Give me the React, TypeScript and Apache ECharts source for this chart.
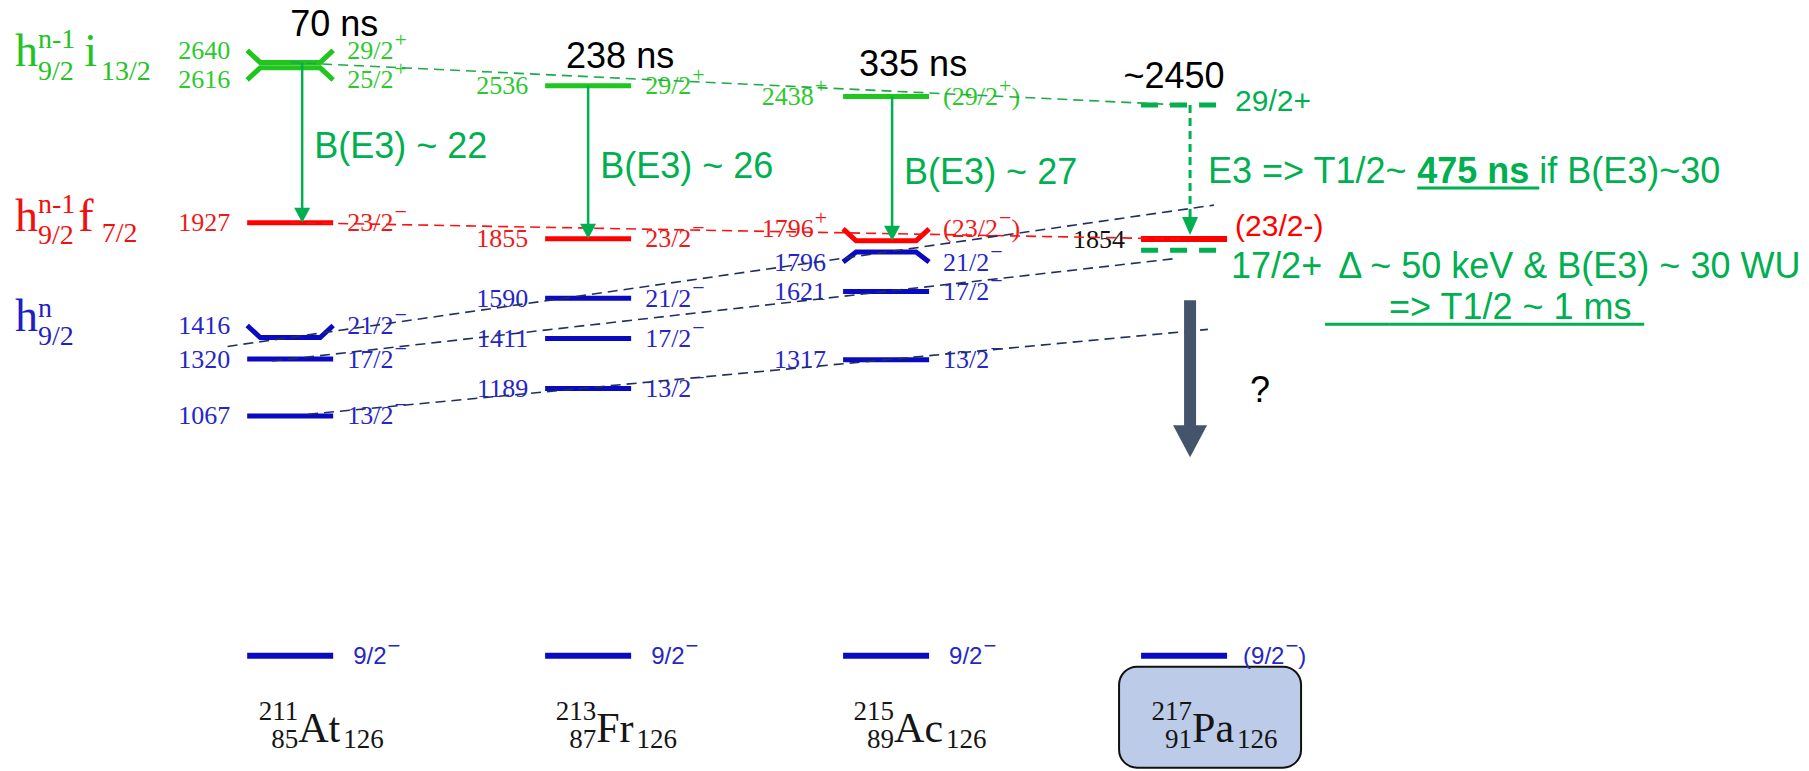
import React, { useEffect, useRef } from 'react';
import * as echarts from 'echarts';

// N = 126 isotones, one column each
const SYMBOLS = ['At', 'Fr', 'Ac', 'Pa'];
const MASS = [211, 213, 215, 217];
const PROTONS = [85, 87, 89, 91];
const NEUTRONS = 126;
const HIGHLIGHT = 3; // 217Pa

// Level energies (keV) and spin-parities
const AT_E = [0, 1067, 1320, 1416, 1927, 2616, 2640];
const AT_J = ['9/2-', '13/2-', '17/2-', '21/2-', '23/2-', '25/2+', '29/2+'];
const FR_E = [0, 1189, 1411, 1590, 1855, 2536];
const FR_J = ['9/2-', '13/2-', '17/2-', '21/2-', '23/2-', '29/2+'];
const AC_E = [0, 1317, 1621, 1796, 1796, 2438];
const AC_J = ['9/2-', '13/2-', '17/2-', '21/2-', '(23/2-)', '(29/2+)'];
const AC_PLUS_X = [false, false, false, false, true, true]; // quoted as E + x
const X_KEV = 50; // unknown offset x
const PA_E = [0, 1804, 1854, 2450];
const PA_J = ['(9/2-)', '17/2+', '(23/2-)', '29/2+'];
const PA_TENTATIVE = [false, true, false, true];

// Isomer half-lives and E3 strengths (W.u.)
const HALF_LIVES = ['70 ns', '238 ns', '335 ns'];
const BE3_WU = [22, 26, 27];
const PA_HALF_LIFE = '475 ns';
const PA_BE3_WU = 30;
const PA_DELTA_KEV = 50;
const PA_ISOMER_BE3 = 30;
const PA_ISOMER_T = '1 ms';

const SERIF = "'Liberation Serif', 'Times New Roman', serif";
const SANS = "'Liberation Sans', Arial, Helvetica, sans-serif";
const NOTE_GREEN = '#00b050';
type Fam = 'b' | 'r' | 'g';
const COLORS: Record<Fam, { line: string; text: string; guide: string }> = {
  b: { line: '#0a0ac2', text: '#2626c8', guide: '#1f3060' },
  r: { line: '#ff0000', text: '#ee1a1a', guide: '#ff1010' },
  g: { line: '#1ec61e', text: '#2cc82c', guide: '#1daa48' },
};

// Levels whose bar ends are bent away from neighbours (px)
const KINKS: Record<string, number> = {
  'At 21/2-': -12,
  'At 25/2+': 12,
  'At 29/2+': -12,
  'Ac 21/2-': 10,
  'Ac (23/2-)': -12,
};
const HALF_W = 43;
const ARROW_DX = [12, 0, 6, 6];
// half-life label placement relative to the isomer (px)
const HL_DX = [44, 32, 27];
const HL_DY = [-39, -30, -33];

type Level = { col: number; e: number; drawE: number; j: string; fam: Fam; plusX: boolean; tentative: boolean };
const bare = (j: string) => j.replace(/[()]/g, '');
function familyOf(j: string): Fam {
  const s = bare(j);
  if (s.endsWith('+')) return 'g';
  if (s === '23/2-') return 'r';
  return 'b';
}
const NUC_E = [AT_E, FR_E, AC_E, PA_E];
const NUC_J = [AT_J, FR_J, AC_J, PA_J];
const LEVELS: Level[] = [];
NUC_E.forEach((es, col) =>
  es.forEach((e, k) => {
    const j = NUC_J[col][k];
    const plusX = col === 2 && AC_PLUS_X[k];
    LEVELS.push({ col, e, drawE: e + (plusX ? X_KEV : 0), j, fam: familyOf(j), plusX, tentative: col === 3 && PA_TENTATIVE[k] });
  })
);
const findLevel = (col: number, j: string) => LEVELS.find((l) => l.col === col && bare(l.j) === j)!;

// Systematics guides: straight line through the same state in two nuclei
const GUIDES = [
  { j: '29/2+', a: 0, b: 3, from: 0, to: 3 },
  { j: '23/2-', a: 0, b: 3, from: 0, to: 3 },
  { j: '21/2-', a: 0, b: 2, from: -0.21, to: 3.1 },
  { j: '17/2-', a: 0, b: 2, from: -0.06, to: 2.97 },
  { j: '13/2-', a: 0, b: 2, from: 0.06, to: 3.08 },
];
const TRANSITIONS = [0, 1, 2, 3].map((col) => ({ col, from: findLevel(col, '29/2+'), to: findLevel(col, '23/2-') }));

// ---------- text helpers ----------
type Run = { t: string; size: number; fill: string; serif?: boolean; bold?: boolean; dy?: number; stack?: boolean; gap?: number; under?: boolean };
let measureCtx: CanvasRenderingContext2D | null = null;
const fontOf = (r: Run) => `${r.bold ? 'bold ' : ''}${r.size}px ${r.serif ? SERIF : SANS}`;
function textWidth(t: string, font: string) {
  if (!measureCtx) measureCtx = document.createElement('canvas').getContext('2d');
  measureCtx!.font = font;
  return measureCtx!.measureText(t).width;
}
function runsToElements(x: number, y: number, runs: Run[], align: 'left' | 'right' | 'center' = 'left') {
  const placed: { r: Run; x: number; w: number }[] = [];
  let pos = 0;
  let stackW = 0;
  for (const r of runs) {
    const w = r.t ? textWidth(r.t, fontOf(r)) : 0;
    placed.push({ r, x: pos, w });
    if (r.stack) stackW = Math.max(stackW, w);
    else {
      pos += Math.max(w, stackW) + (r.gap || 0);
      stackW = 0;
    }
  }
  const x0 = align === 'left' ? x : align === 'right' ? x - pos : x - pos / 2;
  const els: any[] = [];
  for (const p of placed) {
    if (p.r.t)
      els.push({
        type: 'text',
        z2: 20,
        silent: true,
        style: {
          text: p.r.t, x: x0 + p.x, y: y + (p.r.dy || 0), font: fontOf(p.r), fill: p.r.fill,
          textAlign: 'left', textVerticalAlign: 'middle', align: 'left', verticalAlign: 'middle',
        },
      });
    if (p.r.under) {
      const uy = y + (p.r.dy || 0) + p.r.size * 0.5;
      els.push({ type: 'line', z2: 20, silent: true, shape: { x1: x0 + p.x, y1: uy, x2: x0 + p.x + p.w + (p.r.gap || 0), y2: uy }, style: { stroke: p.r.fill, lineWidth: 3 } });
    }
  }
  return els;
}
function spinRuns(j: string, size: number, serif: boolean, fill: string, supSize: number, supDy: number): Run[] {
  const m = /^(\(?)(\d+\/2)([+-])(\)?)$/.exec(j);
  if (!m) return [{ t: j, size, serif, fill }];
  const out: Run[] = [];
  if (m[1]) out.push({ t: '(', size, serif, fill });
  out.push({ t: m[2], size, serif, fill, gap: 1 });
  out.push({ t: m[3] === '+' ? '+' : '\u2212', size: supSize, serif, fill, dy: supDy });
  if (m[4]) out.push({ t: ')', size, serif, fill });
  return out;
}

// ---------- renderers ----------
function renderLevel(params: any, api: any) {
  const L = LEVELS[params.dataIndex];
  const [cx, cy] = api.coord([L.col, L.drawE]);
  const k = KINKS[`${SYMBOLS[L.col]} ${L.j}`] || 0;
  const pa = L.col === 3;
  const stroke = L.tentative ? NOTE_GREEN : COLORS[L.fam].line;
  const x1 = cx - HALF_W;
  const x2 = cx + HALF_W;
  const pts = k ? [[x1, cy + k], [x1 + 13, cy], [x2 - 13, cy], [x2, cy + k]] : [[x1, cy], [x2, cy]];
  const children: any[] = [
    {
      type: 'polyline', z2: 10, silent: true, shape: { points: pts },
      style: { stroke, fill: null, lineWidth: L.e === 0 || (pa && !L.tentative) ? 6 : 5, lineDash: L.tentative ? [17, 12] : null },
    },
  ];
  const ly = cy + k;
  const txt = COLORS[L.fam].text;
  if (L.e === 0) {
    children.push(...runsToElements(x2 + (pa ? 16 : 20), cy, spinRuns(L.j, 24, false, txt, 22, -10)));
  } else if (pa) {
    if (L.j === '29/2+') {
      children.push(...runsToElements(cx - 10, cy - 30, [{ t: `~${L.e}`, size: 36, fill: '#000' }], 'center'));
      children.push(...runsToElements(x2 + 8, cy - 5, [{ t: L.j, size: 30, fill: NOTE_GREEN }]));
    } else if (L.j === '17/2+') {
      children.push(
        ...runsToElements(x2 + 4, cy + 15, [
          { t: L.j, size: 36, fill: NOTE_GREEN, gap: 16 },
          { t: `\u0394 ~ ${PA_DELTA_KEV} keV & B(E3) ~ ${PA_ISOMER_BE3} WU`, size: 36, fill: NOTE_GREEN },
        ])
      );
      children.push(
        ...runsToElements(x2 + 98, cy + 56, [
          { t: '', size: 36, fill: NOTE_GREEN, gap: 64, under: true },
          { t: `=> T1/2 ~ ${PA_ISOMER_T}`, size: 36, fill: NOTE_GREEN, gap: 12, under: true },
        ])
      );
    } else {
      children.push(...runsToElements(x1 - 16, cy, [{ t: String(L.e), size: 26, serif: true, fill: '#111' }], 'right'));
      children.push(...runsToElements(x2 + 8, cy - 14, [{ t: L.j, size: 30, fill: '#ff0000' }]));
    }
  } else {
    const eRuns: Run[] = [{ t: String(L.e), size: 26, serif: true, fill: txt, gap: 1 }];
    if (L.plusX) eRuns.push({ t: '+', size: 22, serif: true, fill: txt, dy: -11 });
    children.push(...runsToElements(x1 - 16, ly, eRuns, 'right'));
    children.push(...runsToElements(x2 + 14, ly, spinRuns(L.j, 26, true, txt, 22, -11)));
  }
  return { type: 'group', children };
}

function renderGuide(params: any, api: any) {
  const G = GUIDES[params.dataIndex];
  const a = findLevel(G.a, G.j);
  const b = findLevel(G.b, G.j);
  const slope = (b.drawE - a.drawE) / (G.b - G.a);
  const eAt = (c: number) => a.drawE + slope * (c - G.a);
  const p1 = api.coord([G.from, eAt(G.from)]);
  const p2 = api.coord([G.to, eAt(G.to)]);
  return {
    type: 'line', silent: true,
    shape: { x1: p1[0], y1: p1[1], x2: p2[0], y2: p2[1] },
    style: { stroke: COLORS[a.fam].guide, lineWidth: 1.6, lineDash: [10, 6] },
  };
}

function renderTransition(params: any, api: any) {
  const T = TRANSITIONS[params.dataIndex];
  const [cx, y1] = api.coord([T.col, T.from.drawE]);
  const pa = T.col === 3;
  const y2 = api.coord([T.col, T.to.drawE])[1] - (pa ? 4 : 0);
  const x = cx + ARROW_DX[T.col];
  const head = pa ? 18 : 15;
  const children: any[] = [
    { type: 'line', silent: true, shape: { x1: x, y1, x2: x, y2: y2 - head + 2 }, style: { stroke: NOTE_GREEN, lineWidth: pa ? 3 : 2.5, lineDash: pa ? [8, 5] : null } },
    { type: 'polygon', silent: true, shape: { points: [[x, y2], [x - 8, y2 - head], [x + 8, y2 - head]] }, style: { fill: NOTE_GREEN } },
  ];
  const mid = (y1 + y2) / 2;
  if (!pa) {
    children.push(...runsToElements(cx + HL_DX[T.col], y1 + HL_DY[T.col], [{ t: HALF_LIVES[T.col], size: 36, fill: '#000' }], 'center'));
    children.push(...runsToElements(x + 12, mid + 3, [{ t: `B(E3) ~ ${BE3_WU[T.col]}`, size: 36, fill: NOTE_GREEN }]));
  } else {
    children.push(
      ...runsToElements(x + 18, mid, [
        { t: 'E3 => T1/2~ ', size: 36, fill: NOTE_GREEN },
        { t: `${PA_HALF_LIFE} `, size: 36, fill: NOTE_GREEN, bold: true, under: true },
        { t: `if B(E3)~${PA_BE3_WU}`, size: 36, fill: NOTE_GREEN },
      ])
    );
  }
  return { type: 'group', children };
}

// Unknown decay branch out of the predicted 17/2+ isomer
function renderDecay(params: any, api: any) {
  const iso = findLevel(3, '17/2+');
  const [cx, cy] = api.coord([3, iso.drawE]);
  const x = cx + 6;
  const c = '#44546a';
  return {
    type: 'group',
    children: [
      { type: 'polygon', silent: true, shape: { points: [[x - 6, cy + 50], [x + 6, cy + 50], [x + 6, cy + 176], [x - 6, cy + 176]] }, style: { fill: c } },
      { type: 'polygon', silent: true, shape: { points: [[x - 17, cy + 175], [x + 17, cy + 175], [x, cy + 207]] }, style: { fill: c } },
      ...runsToElements(x + 70, cy + 139, [{ t: '?', size: 36, fill: '#000' }], 'center'),
    ],
  };
}

function renderNuclide(params: any, api: any) {
  const i = params.dataIndex;
  const [cx, cy] = api.coord([i, 0]);
  const ax = cx + 8;
  const ink = '#151515';
  const children: any[] = [];
  if (i === HIGHLIGHT) {
    children.push({ type: 'rect', silent: true, shape: { x: cx - 65, y: cy + 11, width: 182, height: 101, r: 18 }, style: { fill: '#bccbe8', stroke: '#111', lineWidth: 2 } });
  }
  children.push(...runsToElements(ax, cy + 55, [{ t: String(MASS[i]), size: 27, serif: true, fill: ink }], 'right'));
  children.push(...runsToElements(ax, cy + 83, [{ t: String(PROTONS[i]), size: 27, serif: true, fill: ink }], 'right'));
  children.push(
    ...runsToElements(ax, cy + 72, [
      { t: SYMBOLS[i], size: 42, serif: true, fill: ink, gap: 3 },
      { t: String(NEUTRONS), size: 27, serif: true, fill: ink, dy: 11 },
    ])
  );
  return { type: 'group', children };
}

// Configuration labels on the left
function configLabels() {
  const G = '#22c322';
  const R = '#f01010';
  const B = '#1f1fc2';
  const big = 46;
  const sm = 28;
  return [
    ...runsToElements(15, 50, [
      { t: 'h', size: big, serif: true, fill: G },
      { t: 'n-1', size: sm, serif: true, fill: G, dy: -12, stack: true },
      { t: '9/2', size: sm, serif: true, fill: G, dy: 20, gap: 9 },
      { t: 'i', size: big, serif: true, fill: G, gap: 4 },
      { t: '13/2', size: sm, serif: true, fill: G, dy: 20 },
    ]),
    ...runsToElements(15, 215, [
      { t: 'h', size: big, serif: true, fill: R },
      { t: 'n-1', size: sm, serif: true, fill: R, dy: -12, stack: true },
      { t: '9/2', size: sm, serif: true, fill: R, dy: 19, gap: 3 },
      { t: 'f', size: big, serif: true, fill: R, gap: 8 },
      { t: '7/2', size: sm, serif: true, fill: R, dy: 17 },
    ]),
    ...runsToElements(15, 315, [
      { t: 'h', size: big, serif: true, fill: B },
      { t: 'n', size: sm, serif: true, fill: B, dy: -8, stack: true },
      { t: '9/2', size: sm, serif: true, fill: B, dy: 20 },
    ]),
  ];
}

function buildOption() {
  const base = { type: 'custom', coordinateSystem: 'cartesian2d', clip: false, silent: true };
  return {
    animation: false,
    backgroundColor: '#ffffff',
    grid: { left: 22, right: 29, top: 4, bottom: 3 },
    xAxis: { type: 'value', min: -0.9, max: 5.0, show: false },
    yAxis: { type: 'value', min: -500, max: 2900, show: false },
    graphic: { elements: configLabels() },
    series: [
      { ...base, name: 'levels', z: 2, renderItem: renderLevel, data: LEVELS.map((l) => [l.col, l.drawE]) },
      { ...base, name: 'nuclei', z: 2, renderItem: renderNuclide, data: SYMBOLS.map((_, i) => [i, 0]) },
      { ...base, name: 'systematics', z: 3, renderItem: renderGuide, data: GUIDES.map((g) => [g.from, 0]) },
      { ...base, name: 'E3 decays', z: 4, renderItem: renderTransition, data: TRANSITIONS.map((t) => [t.col, t.from.drawE]) },
      { ...base, name: 'isomer decay', z: 4, renderItem: renderDecay, data: [[3, 0]] },
    ],
  };
}

export default function App() {
  const ref = useRef<HTMLDivElement>(null);
  useEffect(() => {
    const chart = echarts.init(ref.current!, null, { renderer: 'svg' });
    chart.setOption(buildOption() as any);
    return () => chart.dispose();
  }, []);
  return <div ref={ref} style={{ position: 'absolute', left: 0, top: 0, width: 1809, height: 771, background: '#fff' }} />;
}
